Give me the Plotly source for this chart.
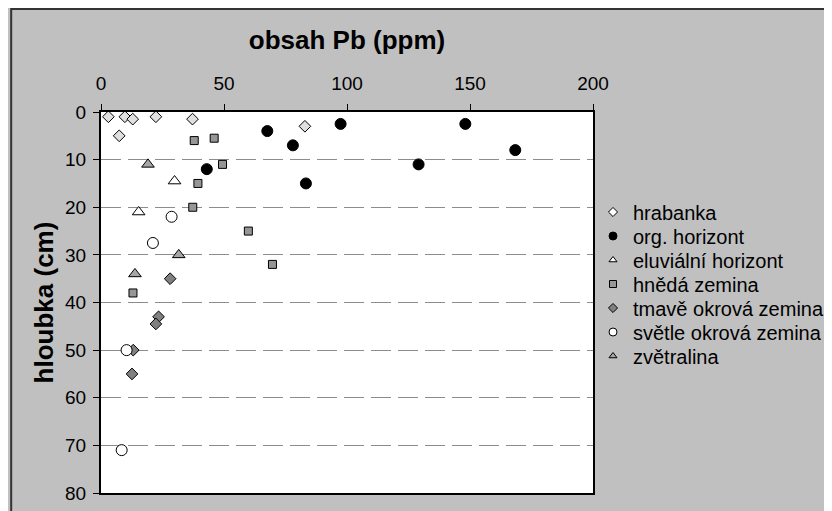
import plotly.graph_objects as go

# data (x = obsah Pb ppm, y = hloubka cm)
hrabanka_x = [3.0, 9.7, 12.9, 22.3, 37.2, 7.4, 82.9]
hrabanka_y = [1, 1, 1.5, 1, 1.5, 5, 3]

org_x = [67.6, 43.0, 78.0, 97.4, 83.3, 129.1, 148.1, 168.4]
org_y = [4, 12, 7, 2.5, 15, 11, 2.5, 8]

eluv_x = [29.9, 15.3]
eluv_y = [14.5, 21]

hneda_x = [37.9, 46.0, 49.4, 39.4, 37.3, 59.9, 69.7, 13.0]
hneda_y = [6, 5.5, 11, 15, 20, 25, 32, 38]

tmave_x = [28.1, 23.4, 22.3, 13.1, 12.6]
tmave_y = [35, 43, 44.5, 50, 55]

svetle_x = [28.7, 21.1, 10.4, 8.4]
svetle_y = [22, 27.5, 50, 71]

zvet_x = [19.1, 31.6, 13.8]
zvet_y = [11, 30, 34]

x_ticks = [0, 50, 100, 150, 200]
y_ticks = [0, 10, 20, 30, 40, 50, 60, 70, 80]

series = [
    ("hrabanka", hrabanka_x, hrabanka_y, "diamond", "#e0e0e0", 9, 7),
    ("org. horizont", org_x, org_y, "circle", "#000000", 11, 8),
    ("eluviální horizont", eluv_x, eluv_y, "triangle-up", "#ffffff", 11, 7),
    ("hnědá zemina", hneda_x, hneda_y, "square", "#969696", 8, 7),
    ("tmavě okrová zemina", tmave_x, tmave_y, "diamond", "#808080", 9, 7),
    ("světle okrová zemina", svetle_x, svetle_y, "circle", "#ffffff", 11, 8),
    ("zvětralina", zvet_x, zvet_y, "triangle-up", "#a6a6a6", 11, 7),
]

font = "Liberation Sans, Arial, sans-serif"
FW, FH = 832, 511
L, T, W, H = 93, 104, 493, 381

fig = go.Figure()
for name, xs, ys, sym, col, sz, lsz in series:
    fig.add_trace(go.Scatter(
        x=xs, y=ys, mode="markers", name=name, showlegend=False,
        marker=dict(symbol=sym, color=col, size=sz,
                    line=dict(color="#000000", width=1)),
    ))

legend_layout = {}
for i, (name, xs, ys, sym, col, sz, lsz) in enumerate(series):
    lid = "legend" if i == 0 else f"legend{i + 1}"
    lcol = "#ffffff" if name in ("hrabanka", "eluviální horizont") else col
    fig.add_trace(go.Scatter(
        x=[None], y=[None], mode="markers", name=name, showlegend=True,
        legend=lid,
        marker=dict(symbol=sym, color=lcol, size=lsz,
                    line=dict(color="#000000", width=1)),
    ))
    legend_layout[lid] = dict(
        xref="paper", yref="paper",
        x=(585 - L) / W, y=1 - (204 + 24 * i - T) / H,
        xanchor="left", yanchor="middle",
        bgcolor="rgba(0,0,0,0)", font=dict(size=20, family=font),
        itemwidth=30,
    )

fig.update_layout(
    width=FW, height=FH,
    margin=dict(l=L, r=FW - L - W, t=T, b=FH - T - H),
    paper_bgcolor="#c0c0c0",
    plot_bgcolor="#ffffff",
    font=dict(family=font, size=19, color="#000000"),
    xaxis=dict(
        side="top", range=[0, 200], tickvals=x_ticks, ticktext=[str(v) for v in x_ticks],
        showgrid=False, zeroline=False, showline=True, linecolor="#000000",
        linewidth=2, mirror=True, ticks="outside", ticklen=6, tickcolor="#000000",
        tickfont=dict(size=19), ticklabelstandoff=6,
        title=dict(text="<b>obsah Pb (ppm)</b>", font=dict(size=26), standoff=16),
    ),
    yaxis=dict(
        range=[80, 0], tickvals=y_ticks, ticktext=[str(v) for v in y_ticks],
        showgrid=True, gridcolor="#8c8c8c", griddash="20px,7px", gridwidth=1,
        zeroline=False, showline=True, linecolor="#000000", linewidth=2,
        mirror=True, ticks="outside", ticklen=6, tickcolor="#000000",
        tickfont=dict(size=19), ticklabelstandoff=3,
        title=dict(text="<b>hloubka (cm)</b>", font=dict(size=26), standoff=4),
    ),
    **legend_layout,
)

# outer chart frame
fig.add_shape(type="rect", xref="paper", yref="paper",
              x0=(3 - L) / W, x1=(845 - L) / W,
              y0=-0.2, y1=1 + (T - 1) / H,
              line=dict(color="#333333", width=2), fillcolor="rgba(0,0,0,0)",
              layer="below")

fig.write_html("out.html")
